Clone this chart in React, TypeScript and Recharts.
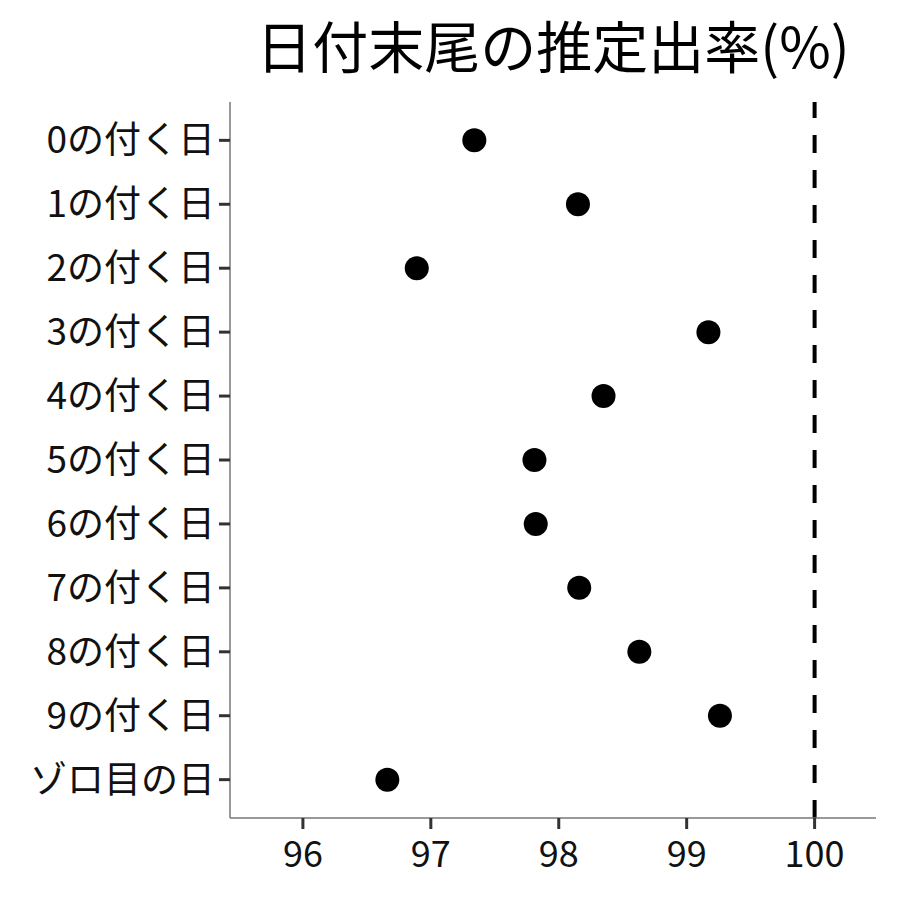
import { ScatterChart, Scatter, XAxis, YAxis, ReferenceLine } from "recharts";

const categories = [
  "0の付く日",
  "1の付く日",
  "2の付く日",
  "3の付く日",
  "4の付く日",
  "5の付く日",
  "6の付く日",
  "7の付く日",
  "8の付く日",
  "9の付く日",
  "ゾロ目の日",
];
const rates = [97.34, 98.15, 96.89, 99.17, 98.35, 97.81, 97.82, 98.16, 98.63, 99.26, 96.66];
const xTicks = [96, 97, 98, 99, 100];

const points = categories.map((name, i) => ({ name, pos: i + 1, rate: rates[i] }));

const font = '"Noto Sans CJK JP", "Noto Sans", sans-serif';

const Dot = (props: any) => <circle cx={props.cx} cy={props.cy} r={12} fill="#000" />;

export default function App() {
  return (
    <div style={{ position: "relative", width: 900, height: 900, margin: -8, background: "#fff", fontFamily: font }}>
      <div
        style={{
          position: "absolute",
          left: 230,
          width: 646,
          top: 4,
          textAlign: "center",
          fontSize: 56,
          lineHeight: "80px",
          color: "#000",
        }}
      >
        日付末尾の推定出率(%)
      </div>
      <ScatterChart width={900} height={900} margin={{ top: 102, right: 24, bottom: 0, left: 0 }}>
        <XAxis
          type="number"
          dataKey="rate"
          domain={[95.43, 100.48]}
          ticks={xTicks}
          allowDataOverflow
          height={82}
          stroke="#777"
          strokeWidth={1.5}
          tickLine={{ stroke: "#333", strokeWidth: 3 }}
          tickSize={11}
          tick={{ fill: "#111", fontSize: 36, fontFamily: font, dy: 10 }}
        />
        <YAxis
          type="number"
          dataKey="pos"
          domain={[0.4, 11.6]}
          ticks={points.map((p) => p.pos)}
          tickFormatter={(v) => categories[v - 1]}
          reversed
          allowDataOverflow
          width={230}
          stroke="#777"
          strokeWidth={1.5}
          tickLine={{ stroke: "#333", strokeWidth: 3 }}
          tickSize={11}
          tick={{ fill: "#111", fontSize: 37, fontFamily: font, dx: -2 }}
        />
        <ReferenceLine x={100} stroke="#000" strokeWidth={4} strokeDasharray="18 17" />
        <Scatter data={points} shape={Dot} isAnimationActive={false} />
      </ScatterChart>
    </div>
  );
}
